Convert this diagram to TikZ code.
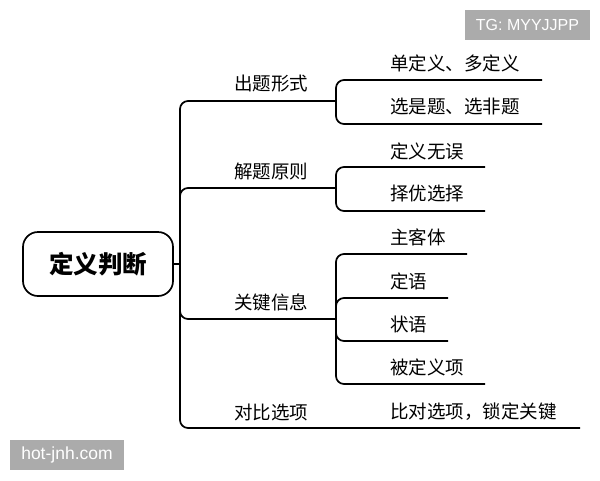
\documentclass[tikz,border=0pt]{standalone}
\usepackage{fontspec}
\setmainfont{Noto Sans CJK SC}
\newfontfamily\wmfont{Liberation Sans}
\begin{document}
\begin{tikzpicture}[x=1pt,y=-1pt,
  conn/.style={line width=1.7pt, rounded corners=8pt},
  lbl/.style={anchor=west, inner sep=0pt, font=\fontsize{18.5}{18.5}\selectfont},
  rootbox/.style={draw, line width=1.7pt, rounded corners=15pt, minimum width=150pt, minimum height=64pt, font=\bfseries\fontsize{24.5}{24.5}\selectfont},
  wm/.style={fill=gray!66, text=white, inner sep=0pt}]
\useasboundingbox (0,0) rectangle (600,480);
% root
\node[rootbox] (root) at (98,264) {定义判断};
\coordinate (t) at (180,264);
% branch labels
\node[lbl] (b1) at (234,84) {出题形式};
\node[lbl] (b2) at (234,171) {解题原则};
\node[lbl] (b3) at (234,302) {关键信息};
\node[lbl] (b4) at (234,412) {对比选项};
% branch line ends
\coordinate (j1) at (336,101);
\coordinate (j2) at (336,188);
\coordinate (j3) at (336,319);
\coordinate (j4) at (580,428);
\draw[conn] (root.east) -- (t);
\draw[conn] (t) |- (j1);
\draw[conn] (t) |- (j2);
\draw[conn] (t) |- (j3);
\draw[conn] (t) |- (j4);
% leaf labels
\node[lbl] (c11) at (390,63) {单定义、多定义};
\node[lbl] (c12) at (390,107) {选是题、选非题};
\node[lbl] (c21) at (390,151) {定义无误};
\node[lbl] (c22) at (390,193) {择优选择};
\node[lbl] (c31) at (390,237) {主客体};
\node[lbl] (c32) at (390,281) {定语};
\node[lbl] (c33) at (390,324) {状语};
\node[lbl] (c34) at (390,367) {被定义项};
\node[lbl] (c41) at (390,412) {比对选项，锁定关键};
% leaf line ends
\coordinate (e11) at (542,80);
\coordinate (e12) at (542,124);
\coordinate (e21) at (485,167);
\coordinate (e22) at (485,211);
\coordinate (e31) at (467,254);
\coordinate (e32) at (448,298);
\coordinate (e33) at (448,341);
\coordinate (e34) at (485,384);
\draw[conn] (j1) |- (e11);
\draw[conn] (j1) |- (e12);
\draw[conn] (j2) |- (e21);
\draw[conn] (j2) |- (e22);
\draw[conn] (j3) |- (e31);
\draw[conn] (j3) |- (e32);
\draw[conn] (j3) |- (e33);
\draw[conn] (j3) |- (e34);
% watermarks
\node[wm, minimum width=125pt, minimum height=30pt, font=\wmfont\fontsize{16}{16}\selectfont] (w1) at (527.5,25) {TG: MYYJJPP};
\node[wm, minimum width=114pt, minimum height=30pt, font=\wmfont\fontsize{17.5}{17.5}\selectfont] (w2) at (67,455) {hot-jnh.com};
\end{tikzpicture}
\end{document}
